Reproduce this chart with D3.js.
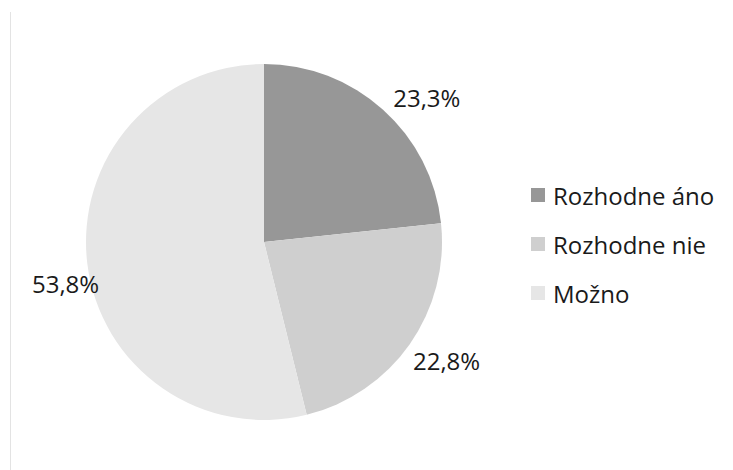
<!DOCTYPE html>
<html>
<head>
<meta charset="utf-8">
<script src="https://cdn.jsdelivr.net/npm/d3@7"></script>
<style>
  body { margin: 0; background: #fff; }
  svg { display: block; }
  text { font-family: "Open Sans", sans-serif; fill: #1a1a1a; }
</style>
</head>
<body>
<svg width="733" height="470"></svg>
<script>
// chart data
const categories = ["Rozhodne áno", "Rozhodne nie", "Možno"];
const values = [23.3, 22.8, 53.8];
const labels = ["23,3%", "22,8%", "53,8%"];
const colors = ["#979797", "#cfcfcf", "#e6e6e6"];

const svg = d3.select("svg");
const cx = 264, cy = 242, radius = 178;

// thin frame line on the left
svg.append("line")
  .attr("x1", 10.5).attr("x2", 10.5)
  .attr("y1", 12).attr("y2", 470)
  .attr("stroke", "#e3e3e3")
  .attr("stroke-width", 1);

const pie = d3.pie().sort(null).value((d) => d);
const arcs = pie(values);
const arcGen = d3.arc().innerRadius(0).outerRadius(radius);
const labelArc = d3.arc().innerRadius(212).outerRadius(212);

const g = svg.append("g").attr("transform", `translate(${cx},${cy})`);

g.selectAll("path")
  .data(arcs)
  .enter()
  .append("path")
  .attr("d", arcGen)
  .attr("fill", (d, i) => colors[i]);

// Excel-like outside-end labels, nudged off the mid angle
const nudge = [[21, 13], [9, -3], [12, 16]];
g.selectAll("text.lbl")
  .data(arcs)
  .enter()
  .append("text")
  .attr("class", "lbl")
  .attr("x", (d, i) => labelArc.centroid(d)[0] + nudge[i][0])
  .attr("y", (d, i) => labelArc.centroid(d)[1] + nudge[i][1])
  .attr("text-anchor", "middle")
  .attr("dominant-baseline", "central")
  .attr("font-size", 24)
  .text((d, i) => labels[i]);

// legend
const legend = svg.append("g").attr("transform", "translate(531,195)");
const row = legend.selectAll("g")
  .data(categories)
  .enter()
  .append("g")
  .attr("transform", (d, i) => `translate(0, ${i * 49})`);

row.append("rect")
  .attr("x", 0).attr("y", -7)
  .attr("width", 14).attr("height", 14)
  .attr("fill", (d, i) => colors[i]);

row.append("text")
  .attr("x", 22)
  .attr("y", 0)
  .attr("dominant-baseline", "central")
  .attr("font-size", 24)
  .text((d) => d);
</script>
</body>
</html>
